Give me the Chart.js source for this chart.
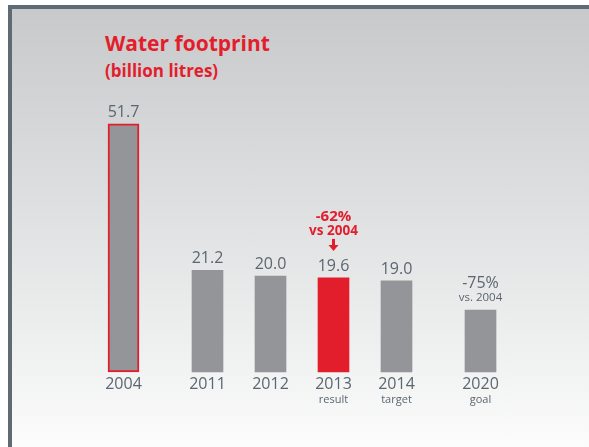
<!DOCTYPE html>
<html>
<head>
<meta charset="utf-8">
<script src="https://cdn.jsdelivr.net/npm/chart.js"></script>
<style>
html, body { margin: 0; padding: 0; background: #fff; }
#frame {
  position: absolute; left: 8px; top: 5px; width: 577px; height: 438px;
  border-top: 4px solid #5f6a73; border-left: 4px solid #5f6a73;
  background: linear-gradient(#c8c9cb, #eff0f0 78%, #fcfcfc);
}
#title { position: absolute; left: 105px; top: 30px; font-family: "Open Sans", sans-serif; color: #e31e2c; font-weight: bold; }
#title .t1 { font-size: 21px; line-height: 27px; }
#title .t2 { font-size: 17px; line-height: 27px; }
#wrap { position: absolute; left: 0; top: 0; width: 589px; height: 447px; }
</style>
</head>
<body>
<div id="frame"></div>
<div id="title"><div class="t1">Water footprint</div><div class="t2">(billion litres)</div></div>
<div id="wrap"><canvas id="c"></canvas></div>
<script>
// data
const years = ['2004', '2011', '2012', '2013', '2014', '2020'];
const subLabels = ['', '', '', 'result', 'target', 'goal'];
const values = [51.7, 21.2, 20.0, 19.6, 19.0, 12.9];
const valueLabels = ['51.7', '21.2', '20.0', '19.6', '19.0', '-75%'];
// empty slots before each bar (uneven spacing in the original)
const gapsBefore = [0, 3, 2, 2, 2, 3];

const GREY = '#939598';
const RED = '#e31e2c';
const TEXT = '#5b6670';
const FONT = '"Open Sans", sans-serif';

// build category axis with spacer slots
const cats = [], data = [], slotOf = [];
years.forEach((y, i) => {
  for (let k = 0; k < gapsBefore[i]; k++) { cats.push(''); data.push(null); }
  slotOf.push(cats.length);
  cats.push(y);
  data.push(values[i]);
});
const fill = cats.map(c => c === '2013' ? RED : GREY);
const border = cats.map(c => c === '2004' ? RED : 'rgba(0,0,0,0)');
const bw = cats.map(c => c === '2004' ? 2 : 0);

const labelPlugin = {
  id: 'barLabels',
  afterDatasetsDraw(chart) {
    const ctx = chart.ctx;
    const meta = chart.getDatasetMeta(0);
    const base = chart.scales.y.getPixelForValue(0);
    ctx.save();
    ctx.textAlign = 'center';
    ctx.textBaseline = 'alphabetic';
    years.forEach((yr, i) => {
      const el = meta.data[slotOf[i]];
      const x = el.x, top = el.y;
      ctx.fillStyle = TEXT;
      ctx.font = '16px ' + FONT;
      ctx.fillText(yr, x, base + 17);
      if (subLabels[i]) {
        ctx.font = '11px ' + FONT;
        ctx.fillText(subLabels[i], x, base + 31);
      }
      if (yr === '2020') {
        ctx.font = '16px ' + FONT;
        ctx.fillText(valueLabels[i], x, top - 22);
        ctx.font = '11.5px ' + FONT;
        ctx.fillText('vs. 2004', x, top - 9);
      } else {
        ctx.font = '16px ' + FONT;
        ctx.fillText(valueLabels[i], x, top - 7);
      }
      if (yr === '2013') {
        ctx.fillStyle = RED;
        ctx.font = 'bold 15px ' + FONT;
        ctx.fillText('-62%', x, top - 57);
        ctx.font = 'bold 13.5px ' + FONT;
        ctx.fillText('vs 2004', x, top - 43);
        // small down arrow
        ctx.fillRect(x - 1.5, top - 39, 3, 7);
        ctx.beginPath();
        ctx.moveTo(x - 5, top - 33);
        ctx.lineTo(x + 5, top - 33);
        ctx.lineTo(x, top - 27);
        ctx.closePath();
        ctx.fill();
      }
    });
    ctx.restore();
  }
};

new Chart(document.getElementById('c'), {
  type: 'bar',
  data: {
    labels: cats,
    datasets: [{
      data: data,
      backgroundColor: fill,
      borderColor: border,
      borderWidth: bw,
      borderSkipped: false,
      barThickness: 31,
      clip: false
    }]
  },
  options: {
    responsive: true,
    maintainAspectRatio: false,
    animation: false,
    layout: { padding: { left: 113, right: 98, top: 84, bottom: 75 } },
    plugins: { legend: { display: false }, tooltip: { enabled: false } },
    scales: {
      x: { display: false },
      y: { display: false, min: 0, max: 60 }
    }
  },
  plugins: [labelPlugin]
});
</script>
</body>
</html>
